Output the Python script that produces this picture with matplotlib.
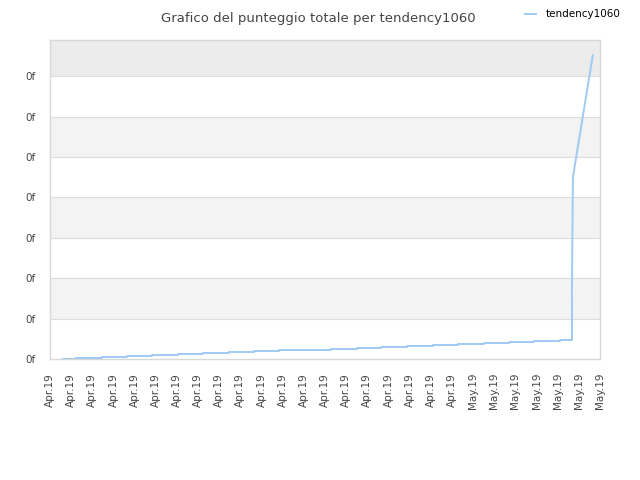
import numpy as np
import pandas as pd
import matplotlib
matplotlib.use("Agg")
import matplotlib.pyplot as plt
import matplotlib.dates as mdates
from matplotlib.ticker import FuncFormatter, MultipleLocator

# punteggio a gradini (aprile - inizio maggio)
step_times = ["2019-04-11 15:00", "2019-04-12 05:30", "2019-04-13 11:00", "2019-04-14 15:36",
              "2019-04-15 20:00", "2019-04-17 01:30", "2019-04-18 05:45", "2019-04-19 11:15",
              "2019-04-20 15:50", "2019-04-21 20:10", "2019-04-23 01:40", "2019-04-24 06:15",
              "2019-04-25 11:45", "2019-04-26 16:05", "2019-04-27 20:40", "2019-04-29 02:10",
              "2019-04-30 06:30", "2019-05-01 12:00", "2019-05-02 16:30", "2019-05-03 20:50",
              "2019-05-05 02:25", "2019-05-05 16:05"]
step_scores = [0.000, 0.015, 0.040, 0.064, 0.089, 0.113, 0.138, 0.162, 0.186, 0.211, 0.235,
               0.259, 0.283, 0.307, 0.331, 0.355, 0.379, 0.403, 0.427, 0.451, 0.470, 1.51]

# salita finale
ramp_times = ["2019-05-05 16:05", "2019-05-05 17:17", "2019-05-06 15:50"]
ramp_scores = [1.51, 4.50, 7.52]

tick_days = pd.date_range("2019-04-11", "2019-05-07", freq="D")

line_col = "#9fcaf3"

fig = plt.figure(figsize=(6.4, 4.8), dpi=100)
ax = fig.add_axes([50 / 640, 121 / 480, 550 / 640, 319 / 480])

ymax = 319 / 40.4
# bande alternate
for i in range(8):
    lo = i
    hi = min(i + 1, ymax)
    if i == 7:
        ax.axhspan(lo, hi, color="#ececec", lw=0, zorder=0)
    elif i % 2 == 1:
        ax.axhspan(lo, hi, color="#f3f3f3", lw=0, zorder=0)
    if 0 < i:
        ax.axhline(i, color="#dddddd", lw=0.8, zorder=1)

ax.plot(pd.to_datetime(step_times), step_scores, drawstyle="steps-post",
        color=line_col, lw=1.4, label="tendency1060", zorder=3)
ax.plot(pd.to_datetime(ramp_times), ramp_scores, color=line_col, lw=1.4, zorder=3)

ax.set_xlim(tick_days[0], tick_days[-1])
ax.set_ylim(0, ymax)
ax.set_xticks(tick_days)
ax.xaxis.set_major_formatter(mdates.DateFormatter("%b.%y"))
ax.yaxis.set_major_locator(MultipleLocator(1))
ax.yaxis.set_major_formatter(FuncFormatter(lambda v, p: "0f"))
ax.tick_params(axis="x", labelrotation=90, length=0, pad=10, labelsize=7.5, labelcolor="#444444")
ax.tick_params(axis="y", length=0, pad=10, labelsize=7.5, labelcolor="#444444")

for s in ax.spines.values():
    s.set_color("#d8d8d8")
    s.set_linewidth(1)

fig.text(0.497, 0.975, "Grafico del punteggio totale per tendency1060", ha="center", va="top",
         fontsize=9.5, color="#444444")
fig.legend(loc="upper right", bbox_to_anchor=(0.985, 1.0), frameon=False, fontsize=7.5,
           handlelength=1.0, handletextpad=1.0)

fig.savefig("out.png", dpi=100)
